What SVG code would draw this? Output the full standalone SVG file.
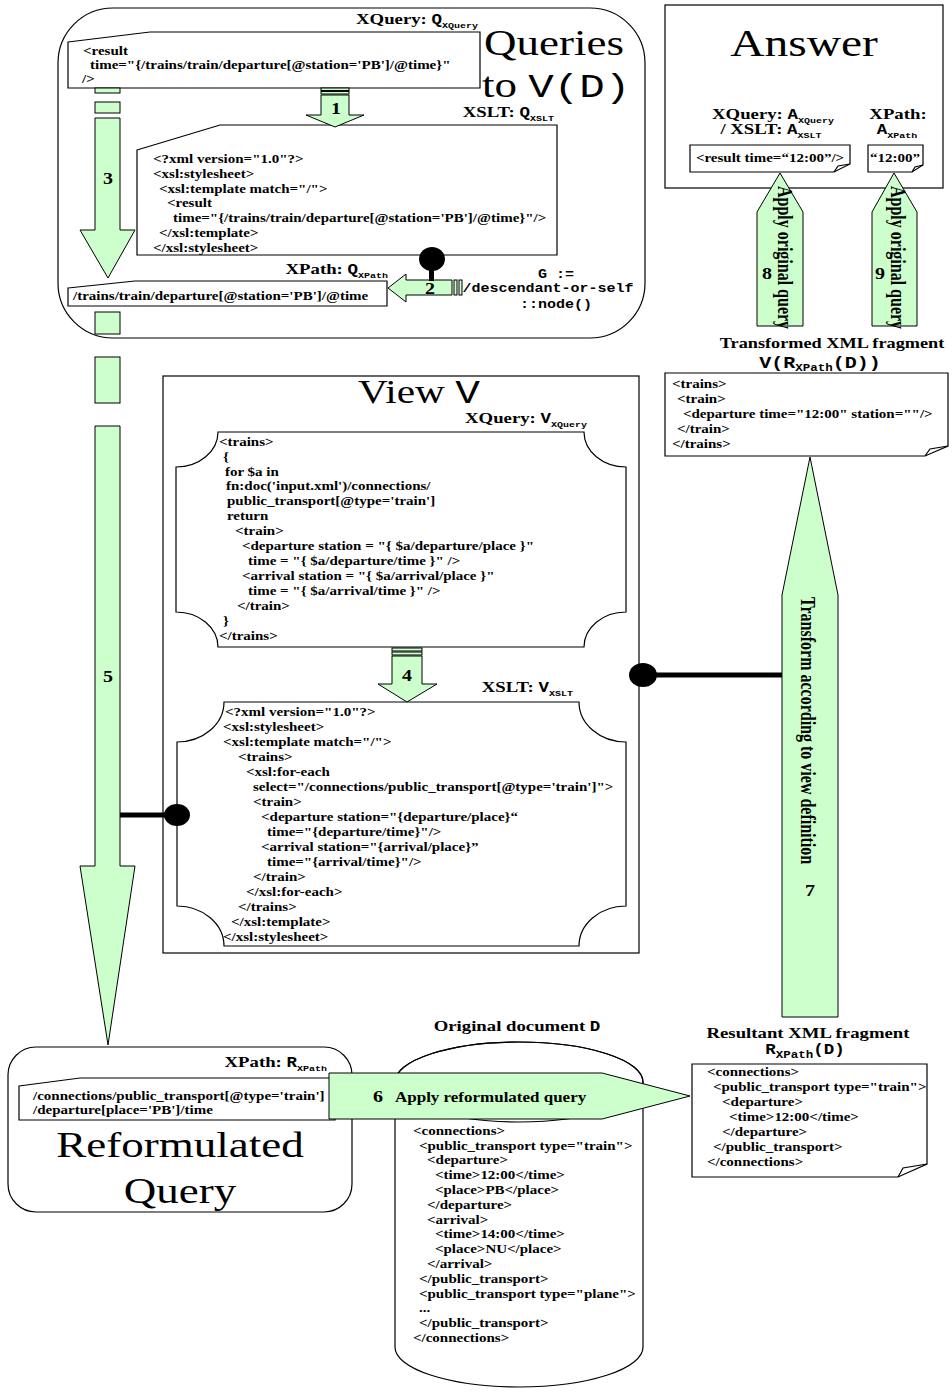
<svg xmlns="http://www.w3.org/2000/svg" width="952" height="1392" viewBox="0 0 952 1392">
<defs>
<style>
.bx{fill:#fff;stroke:#000;stroke-width:1.2}
.ln{fill:none;stroke:#000;stroke-width:1.2}
.ar{fill:#ccffcc;stroke:#000;stroke-width:1}
.c{font-family:"Liberation Serif","Times New Roman",serif;font-weight:bold;font-size:12px}
.lb{font-family:"Liberation Serif","Times New Roman",serif;font-weight:bold;font-size:15px}
.m{font-family:"Liberation Mono","Courier New",monospace;font-weight:bold}
.mr{font-family:"Liberation Mono","Courier New",monospace;font-weight:normal}
.big{font-family:"Liberation Serif","Times New Roman",serif;font-size:36px}
.n{font-family:"Liberation Serif","Times New Roman",serif;font-weight:bold;font-size:16px;text-anchor:middle}
.rot{font-family:"Liberation Serif","Times New Roman",serif;font-weight:bold;font-size:16px}
.ball{fill:#000}
</style>
</defs>
<rect width="952" height="1392" fill="#fff"/>

<!-- Queries to V(D) container -->
<g id="queries">
<rect class="bx" x="58" y="8" width="587" height="330" rx="55" ry="55"/>
<text class="big" transform="translate(484,55) scale(1.25,1)">Queries</text>
<text class="big" transform="translate(482,97) scale(1.25,1)">to <tspan class="mr" font-size="34">V(D)</tspan></text>
<text class="m" font-size="12" text-anchor="middle" transform="translate(556,278) scale(1.25,1)">G :=</text>
<text class="m" font-size="12" text-anchor="middle" transform="translate(548,292) scale(1.25,1)">/descendant-or-self</text>
<text class="m" font-size="12" text-anchor="middle" transform="translate(556,308) scale(1.25,1)">::node()</text>
</g>

<g id="q-xquery">
<polygon class="bx" points="68,42 150,32 480,32 480,88 68,88"/>
<text class="lb" text-anchor="end" transform="translate(478,24) scale(1.25,1)">XQuery: <tspan class="m" font-size="14">Q</tspan><tspan class="m" font-size="8" dy="4">XQuery</tspan></text>
<g class="c" transform="translate(82,0) scale(1.25,1)">
<text x="0.8" y="55">&lt;result</text>
<text x="6.4" y="69">time="{/trains/train/departure[@station='PB']/@time}"</text>
<text x="0" y="83">/&gt;</text>
</g>
</g>

<g id="q-xslt">
<polygon class="bx" points="137,150 220,125 557,125 557,255 137,255"/>
<text class="lb" text-anchor="end" transform="translate(554,117) scale(1.25,1)">XSLT: <tspan class="m" font-size="14">Q</tspan><tspan class="m" font-size="8" dy="4">XSLT</tspan></text>
<g class="c" transform="translate(153,0) scale(1.25,1)">
<text x="0" y="163">&lt;?xml version="1.0"?&gt;</text>
<text x="0" y="178">&lt;xsl:stylesheet&gt;</text>
<text x="4.8" y="193">&lt;xsl:template match="/"&gt;</text>
<text x="11.2" y="207.5">&lt;result</text>
<text x="16" y="222">time="{/trains/train/departure[@station='PB']/@time}"/&gt;</text>
<text x="4.8" y="237">&lt;/xsl:template&gt;</text>
<text x="0" y="252">&lt;/xsl:stylesheet&gt;</text>
</g>
</g>

<g id="q-xpath">
<polygon class="bx" points="68,288 135,281 387,281 387,306 68,306"/>
<text class="lb" text-anchor="end" transform="translate(388,274) scale(1.25,1)">XPath: <tspan class="m" font-size="14">Q</tspan><tspan class="m" font-size="8" dy="4">XPath</tspan></text>
<text class="c" transform="translate(73,300) scale(1.25,1)">/trains/train/departure[@station='PB']/@time</text>
</g>

<!-- Answer -->
<g id="answer">
<rect class="bx" x="665" y="5" width="278" height="183"/>
<text class="big" style="font-size:38px" text-anchor="middle" transform="translate(804,56) scale(1.25,1)">Answer</text>
<text class="lb" text-anchor="middle" transform="translate(773,119) scale(1.25,1)">XQuery: <tspan class="m" font-size="14">A</tspan><tspan class="m" font-size="8" dy="4">XQuery</tspan></text>
<text class="lb" text-anchor="middle" transform="translate(771,134) scale(1.25,1)">/ XSLT: <tspan class="m" font-size="14">A</tspan><tspan class="m" font-size="8" dy="4">XSLT</tspan></text>
<text class="lb" text-anchor="middle" transform="translate(898,119) scale(1.25,1)">XPath:</text>
<text class="lb" text-anchor="middle" transform="translate(897,134) scale(1.25,1)"><tspan class="m" font-size="14">A</tspan><tspan class="m" font-size="8" dy="4">XPath</tspan></text>
</g>
<g id="a-xquery">
<path class="bx" d="M690,145 H850 V164 L834,172 H690 Z"/>
<path class="ln" d="M834,172 L838,166 L850,164"/>
<text class="c" text-anchor="middle" transform="translate(770,162) scale(1.25,1)">&lt;result time=“12:00”/&gt;</text>
</g>
<g id="a-xpath">
<path class="bx" d="M868,145 H923 V165 L912,172 H868 Z"/>
<path class="ln" d="M912,172 L915,167 L923,165"/>
<text class="c" text-anchor="middle" transform="translate(895,162) scale(1.25,1)">“12:00”</text>
</g>

<!-- Transformed XML fragment -->
<g id="transformed">
<text class="lb" style="font-size:14.6px" text-anchor="middle" transform="translate(832,348) scale(1.25,1)">Transformed XML fragment</text>
<text class="m" font-size="16" text-anchor="middle" transform="translate(820,368) scale(1.25,1)">V(R<tspan font-size="10" dy="3">XPath</tspan><tspan dy="-3">(D))</tspan></text>
<path class="bx" d="M665,373 H948 V446 L925,456 H665 Z"/>
<path class="ln" d="M925,456 L930,449 L948,446"/>
<g class="c" transform="translate(672,0) scale(1.25,1)">
<text x="0" y="388">&lt;trains&gt;</text>
<text x="4" y="403">&lt;train&gt;</text>
<text x="8.8" y="418">&lt;departure time="12:00" station=""/&gt;</text>
<text x="4" y="433">&lt;/train&gt;</text>
<text x="0" y="448">&lt;/trains&gt;</text>
</g>
</g>

<!-- View V -->
<g id="view">
<rect class="bx" x="163" y="376" width="476" height="577"/>
<text class="big" style="font-size:33px" transform="translate(358,403) scale(1.25,1)">View <tspan class="mr">V</tspan></text>
</g>

<g id="v-xquery">
<text class="lb" text-anchor="end" transform="translate(587,423) scale(1.25,1)">XQuery: <tspan class="m" font-size="14">V</tspan><tspan class="m" font-size="8" dy="4">XQuery</tspan></text>
<path class="bx" d="M218,432 H584 A42,35 0 0 0 626,467 V612 A42,35 0 0 0 584,647 H218 A42,35 0 0 0 176,612 V467 A42,35 0 0 0 218,432 Z"/>
<g class="c" transform="translate(219,0) scale(1.25,1)">
<text x="0" y="446">&lt;trains&gt;</text>
<text x="3.2" y="461">{</text>
<text x="4.8" y="476">for $a in</text>
<text x="5.6" y="490.5">fn:doc('input.xml')/connections/</text>
<text x="6.4" y="505.5">public_transport[@type='train']</text>
<text x="6.4" y="520.5">return</text>
<text x="12.8" y="535">&lt;train&gt;</text>
<text x="18.4" y="550">&lt;departure station = "{ $a/departure/place }"</text>
<text x="23.2" y="565">time = "{ $a/departure/time }" /&gt;</text>
<text x="18.4" y="580">&lt;arrival station = "{ $a/arrival/place }"</text>
<text x="23.2" y="595">time = "{ $a/arrival/time }" /&gt;</text>
<text x="14.4" y="610">&lt;/train&gt;</text>
<text x="3.2" y="625">}</text>
<text x="0" y="640">&lt;/trains&gt;</text>
</g>
</g>

<g id="v-xslt">
<text class="lb" text-anchor="end" transform="translate(573,692) scale(1.25,1)">XSLT: <tspan class="m" font-size="14">V</tspan><tspan class="m" font-size="8" dy="4">XSLT</tspan></text>
<path class="bx" d="M224,702 H579 A47,40 0 0 0 626,742 V906 A47,40 0 0 0 579,946 H224 A47,40 0 0 0 177,906 V742 A47,40 0 0 0 224,702 Z"/>
<g class="c" transform="translate(223,0) scale(1.25,1)">
<text x="1.6" y="716">&lt;?xml version="1.0"?&gt;</text>
<text x="0" y="731">&lt;xsl:stylesheet&gt;</text>
<text x="0" y="746">&lt;xsl:template match="/"&gt;</text>
<text x="12" y="761">&lt;trains&gt;</text>
<text x="18.4" y="776">&lt;xsl:for-each</text>
<text x="24" y="791">select="/connections/public_transport[@type='train']"&gt;</text>
<text x="24" y="806">&lt;train&gt;</text>
<text x="30.4" y="821">&lt;departure station="{departure/place}“</text>
<text x="35.2" y="836">time="{departure/time}"/&gt;</text>
<text x="30.4" y="851">&lt;arrival station="{arrival/place}”</text>
<text x="35.2" y="866">time="{arrival/time}"/&gt;</text>
<text x="24" y="881">&lt;/train&gt;</text>
<text x="18.4" y="896">&lt;/xsl:for-each&gt;</text>
<text x="12" y="911">&lt;/trains&gt;</text>
<text x="6.4" y="926">&lt;/xsl:template&gt;</text>
<text x="0" y="941">&lt;/xsl:stylesheet&gt;</text>
</g>
</g>

<!-- Reformulated Query -->
<g id="reformulated">
<rect class="bx" x="8" y="1047" width="344" height="165" rx="28" ry="28"/>
<text class="lb" text-anchor="end" transform="translate(327,1067) scale(1.25,1)">XPath: <tspan class="m" font-size="14">R</tspan><tspan class="m" font-size="8" dy="4">XPath</tspan></text>
<text class="big" text-anchor="middle" transform="translate(180,1157) scale(1.25,1)">Reformulated</text>
<text class="big" text-anchor="middle" transform="translate(180,1203) scale(1.25,1)">Query</text>
</g>
<g id="r-xpath">
<polygon class="bx" points="19,1086 80,1078 335,1078 335,1120 19,1120"/>
<g class="c" transform="translate(33,0) scale(1.25,1)">
<text x="0" y="1100">/connections/public_transport[@type='train']</text>
<text x="0" y="1114">/departure[place='PB']/time</text>
</g>
</g>

<!-- Original document -->
<g id="original">
<text class="lb" text-anchor="middle" transform="translate(517,1031) scale(1.25,1)">Original document <tspan class="m" font-size="14">D</tspan></text>
<path class="bx" d="M395,1082 V1347 A124,40 0 0 0 643,1347 V1082 A124,40 0 0 0 395,1082 Z"/>
<ellipse class="ln" cx="519" cy="1082" rx="124" ry="40"/>
<g class="c" transform="translate(413,0) scale(1.25,1)">
<text x="0" y="1135">&lt;connections&gt;</text>
<text x="4.8" y="1150">&lt;public_transport type="train"&gt;</text>
<text x="11.2" y="1164.5">&lt;departure&gt;</text>
<text x="17.6" y="1179">&lt;time&gt;12:00&lt;/time&gt;</text>
<text x="17.6" y="1194">&lt;place&gt;PB&lt;/place&gt;</text>
<text x="11.2" y="1209">&lt;/departure&gt;</text>
<text x="11.2" y="1224">&lt;arrival&gt;</text>
<text x="17.6" y="1238.5">&lt;time&gt;14:00&lt;/time&gt;</text>
<text x="17.6" y="1253">&lt;place&gt;NU&lt;/place&gt;</text>
<text x="11.2" y="1268">&lt;/arrival&gt;</text>
<text x="4.8" y="1283">&lt;/public_transport&gt;</text>
<text x="4.8" y="1298">&lt;public_transport type="plane"&gt;</text>
<text x="4.8" y="1312.5">...</text>
<text x="4.8" y="1327">&lt;/public_transport&gt;</text>
<text x="0" y="1342">&lt;/connections&gt;</text>
</g>
</g>

<!-- Resultant XML fragment -->
<g id="resultant">
<text class="lb" text-anchor="middle" transform="translate(808,1038) scale(1.25,1)">Resultant XML fragment</text>
<text class="m" font-size="14" text-anchor="middle" transform="translate(805,1054) scale(1.25,1)">R<tspan font-size="10" dy="4">XPath</tspan><tspan dy="-4">(D)</tspan></text>
<path class="bx" d="M692,1064 H927 V1164 L898,1177 H692 Z"/>
<path class="ln" d="M898,1177 L903,1168 L927,1164"/>
<g class="c" transform="translate(707,0) scale(1.25,1)">
<text x="0" y="1076">&lt;connections&gt;</text>
<text x="4.8" y="1091">&lt;public_transport type="train"&gt;</text>
<text x="12" y="1106">&lt;departure&gt;</text>
<text x="17.6" y="1121">&lt;time&gt;12:00&lt;/time&gt;</text>
<text x="12" y="1136">&lt;/departure&gt;</text>
<text x="4.8" y="1151">&lt;/public_transport&gt;</text>
<text x="0" y="1166">&lt;/connections&gt;</text>
</g>
</g>

<!-- Connectors -->
<g id="connectors">
<g id="arrow1">
<rect class="ar" x="321" y="88" width="28" height="2.5"/>
<rect class="ar" x="321" y="91.5" width="28" height="2.5"/>
<polygon class="ar" points="321,95 349,95 349,115 364,115 335,127 306,115 321,115"/>
<text class="n" transform="translate(336,114) scale(1.25,1)">1</text>
</g>
<g id="arrow2">
<rect class="ar" x="459" y="280" width="3" height="15"/>
<rect class="ar" x="454" y="280" width="3" height="15"/>
<polygon class="ar" points="452,280 452,295 406,295 406,302 388,288 406,274 406,280"/>
<rect class="ball" x="429" y="266" width="5" height="15"/>
<ellipse class="ball" cx="432" cy="259" rx="13" ry="12"/>
<text class="n" transform="translate(430,294) scale(1.25,1)">2</text>
</g>
<g id="arrow3">
<rect class="ar" x="95" y="88" width="25" height="5"/>
<rect class="ar" x="95" y="102" width="25" height="11"/>
<polygon class="ar" points="95,118 120,118 120,230 135,230 108,278 80,230 95,230"/>
<text class="n" transform="translate(108,184) scale(1.25,1)">3</text>
</g>
<g id="arrow4">
<rect class="ar" x="392" y="648" width="30" height="3"/>
<rect class="ar" x="392" y="652" width="30" height="3"/>
<polygon class="ar" points="392,656 422,656 422,684 437,684 407,702 378,684 392,684"/>
<text class="n" transform="translate(407,681) scale(1.25,1)">4</text>
</g>
<g id="arrow5">
<rect class="ar" x="95" y="312" width="25" height="22"/>
<rect class="ar" x="95" y="357" width="25" height="46"/>
<polygon class="ar" points="95,426 120,426 120,866 135,866 108,1045 80,866 95,866"/>
<text class="n" transform="translate(108,682) scale(1.25,1)">5</text>
<rect class="ball" x="120" y="812.5" width="52" height="5"/>
<ellipse class="ball" cx="177" cy="815" rx="13" ry="11"/>
</g>
<g id="arrow6">
<polygon class="ar" points="329,1073 602,1073 690,1096 602,1119 329,1119"/>
<text class="n" transform="translate(378,1102) scale(1.25,1)">6</text>
<text class="lb" style="font-size:13.6px" transform="translate(395,1102) scale(1.25,1)">Apply reformulated query</text>
</g>
<g id="arrow7">
<polygon class="ar" points="782,1017 782,595 810,457 838,595 838,1017"/>
<text class="rot" transform="translate(801,597) rotate(90) scale(1,1.25)">Transform according to view definition</text>
<text class="n" transform="translate(810,896) scale(1.25,1)">7</text>
<rect class="ball" x="650" y="672.5" width="132" height="5"/>
<ellipse class="ball" cx="643" cy="675" rx="14" ry="12"/>
</g>
<g id="arrow8">
<polygon class="ar" points="757,326 757,212 780,173 803,212 803,326"/>
<text class="rot" transform="translate(778,186) rotate(90) scale(1,1.25)">Apply original query</text>
<text class="n" transform="translate(767,279) scale(1.25,1)">8</text>
</g>
<g id="arrow9">
<polygon class="ar" points="872,326 872,212 894,173 917,212 917,326"/>
<text class="rot" transform="translate(891,186) rotate(90) scale(1,1.25)">Apply original query</text>
<text class="n" transform="translate(880,279) scale(1.25,1)">9</text>
</g>
</g>
</svg>
